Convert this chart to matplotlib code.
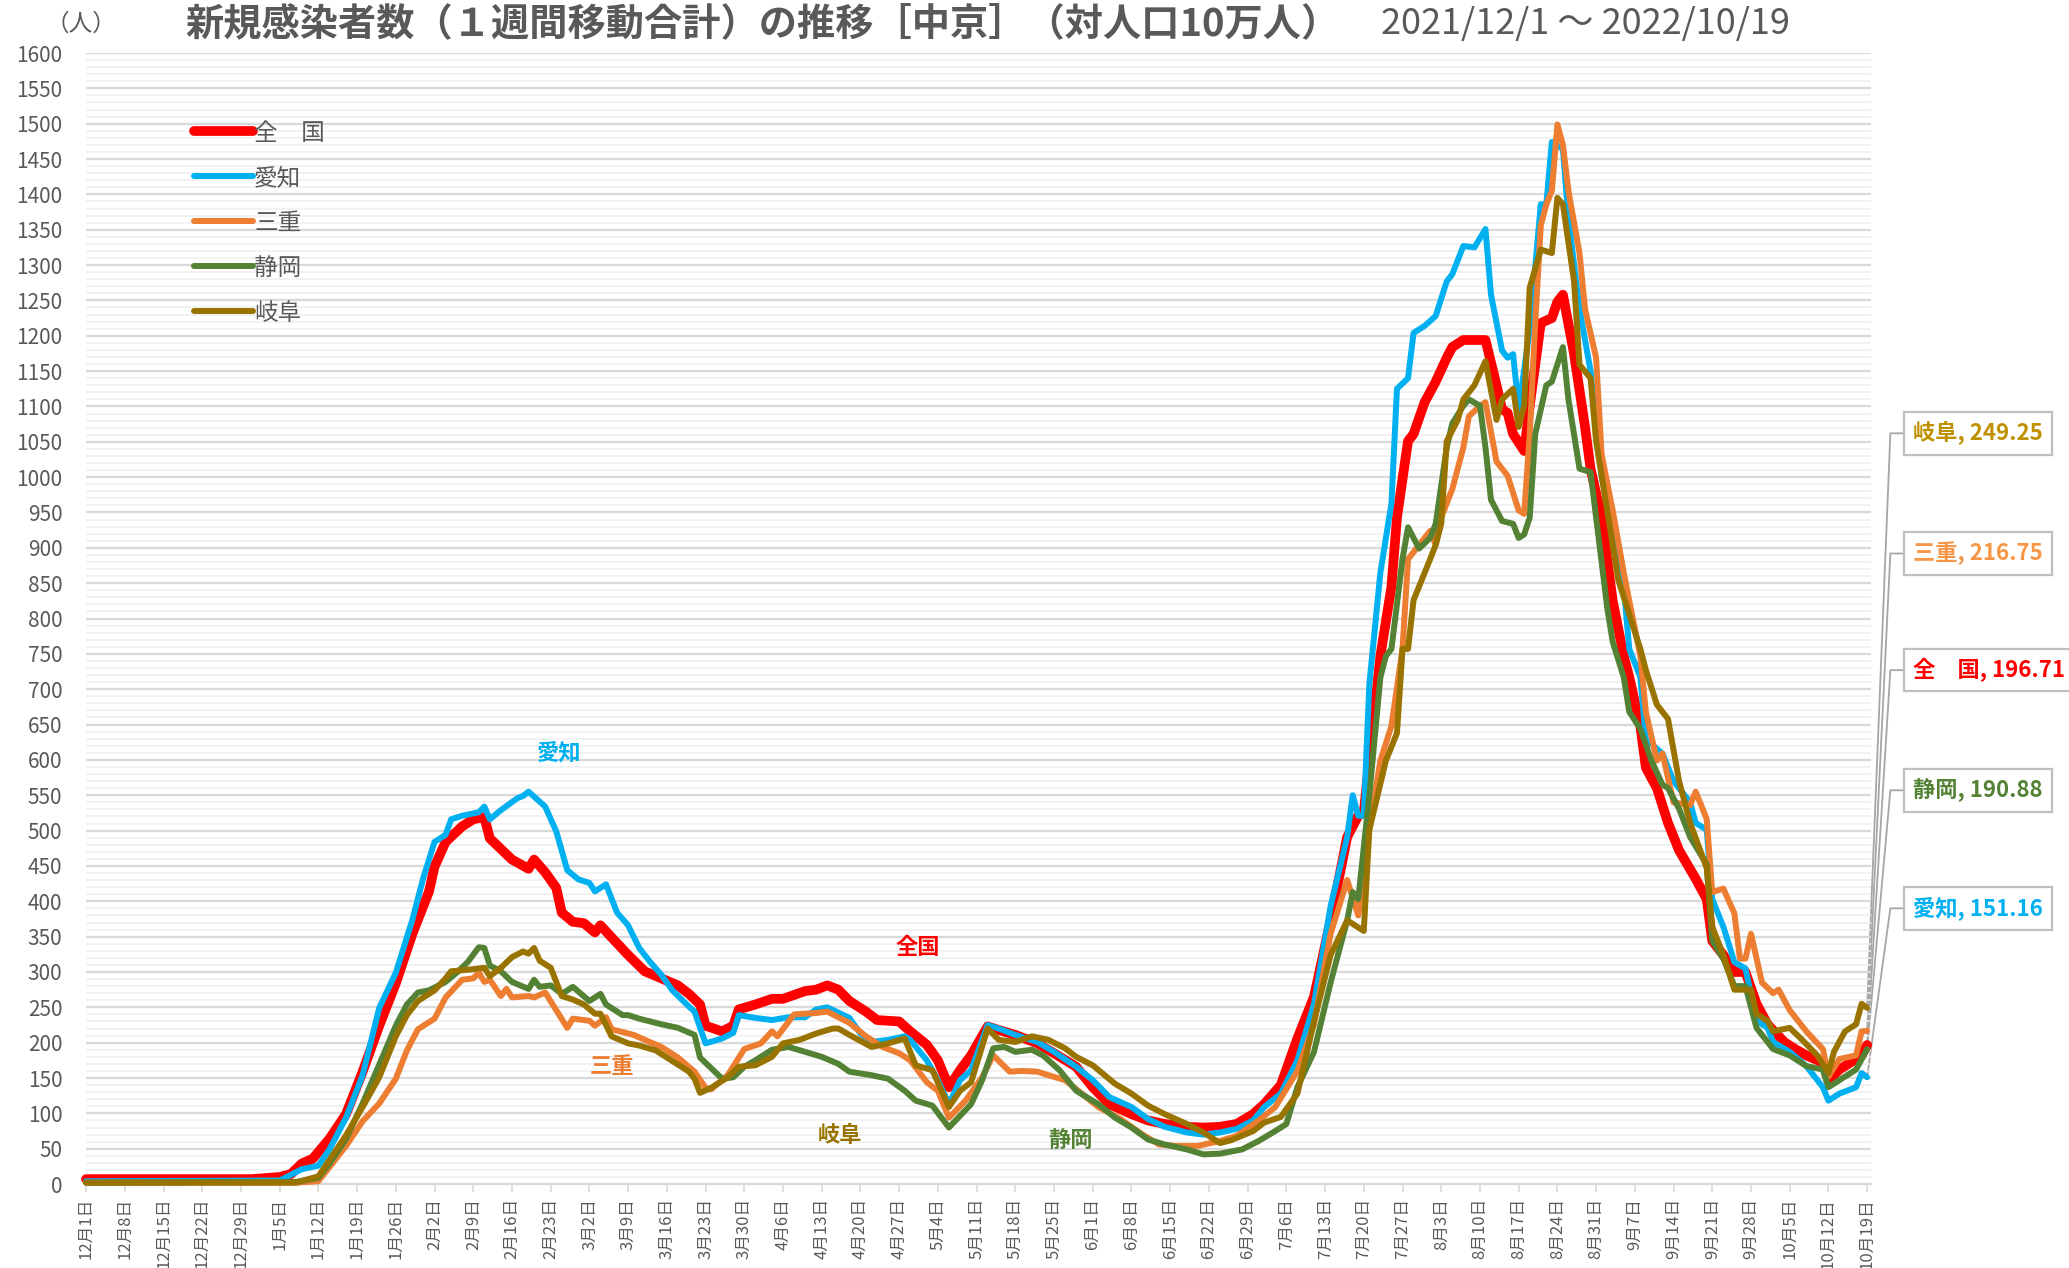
import matplotlib
matplotlib.use("Agg")
import matplotlib.pyplot as plt
from matplotlib.ticker import MultipleLocator
import pandas as pd

plt.rcParams['font.family'] = ['Noto Sans CJK JP', 'DejaVu Sans']

# day offsets from 2021/12/1, values per 100k (1-week moving total)
zenkoku_d = [0, 30, 35, 37, 39, 41, 44, 47, 49, 50, 53, 56, 59, 62, 63, 65, 68, 70, 72, 73, 75, 77, 80, 81, 83, 85, 86, 88, 90, 92, 93, 95, 98, 101, 104, 107, 109, 111, 112, 115, 117, 118, 121, 124, 126, 130, 132, 134, 136, 138, 141, 143, 147, 149, 152, 154, 156, 158, 160, 163, 165, 168, 172, 175, 179, 182, 185, 189, 192, 195, 199, 202, 205, 208, 211, 213, 216, 219, 222, 225, 228, 230, 231, 232, 234, 236, 237, 239, 240, 242, 244, 246, 247, 249, 253, 255, 256, 257, 258, 260, 261, 262, 263, 265, 266, 267, 269, 271, 272, 274, 276, 278, 279, 281, 282, 284, 286, 288, 291, 293, 294, 296, 298, 300, 302, 304, 307, 309, 311, 314, 315, 317, 319, 321, 322]
zenkoku_v = [7, 7, 10, 14, 29, 36, 64, 99, 139, 159, 224, 284, 354, 414, 449, 484, 506, 516, 519, 489, 474, 459, 446, 459, 441, 419, 384, 371, 369, 356, 366, 349, 324, 301, 291, 281, 269, 254, 224, 216, 224, 247, 254, 262, 262, 273, 275, 281, 275, 259, 244, 232, 230, 216, 197, 175, 137, 161, 182, 223, 218, 211, 199, 185, 166, 137, 113, 99, 90, 85, 81, 80, 81, 85, 99, 113, 140, 206, 265, 373, 491, 521, 526, 599, 747, 845, 943, 1051, 1061, 1106, 1135, 1169, 1184, 1194, 1194, 1130, 1096, 1091, 1061, 1037, 1101, 1160, 1218, 1225, 1248, 1258, 1175, 1071, 1012, 943, 825, 747, 717, 648, 589, 560, 511, 472, 432, 403, 344, 324, 300, 300, 255, 226, 201, 191, 182, 172, 147, 162, 172, 182, 196.71]

aichi_d = [0, 35, 39, 42, 44, 47, 50, 53, 56, 59, 61, 63, 65, 66, 68, 71, 72, 73, 75, 78, 79, 80, 83, 85, 87, 89, 91, 92, 94, 96, 98, 100, 102, 104, 106, 109, 110, 112, 115, 117, 118, 121, 124, 127, 130, 132, 134, 138, 140, 142, 145, 148, 149, 152, 154, 156, 158, 160, 163, 165, 168, 172, 175, 179, 182, 185, 189, 192, 195, 199, 202, 205, 208, 211, 213, 216, 219, 222, 225, 228, 229, 230, 231, 232, 234, 236, 237, 239, 240, 242, 244, 246, 247, 249, 251, 253, 254, 256, 257, 258, 259, 261, 263, 264, 265, 267, 268, 270, 272, 274, 276, 278, 279, 281, 282, 285, 287, 290, 291, 293, 294, 296, 298, 300, 302, 304, 305, 308, 311, 314, 315, 317, 320, 321, 322]
aichi_v = [4, 5, 21, 26, 49, 94, 154, 249, 299, 374, 434, 484, 494, 516, 521, 526, 534, 516, 529, 546, 549, 555, 534, 499, 444, 431, 426, 414, 424, 384, 366, 334, 314, 296, 274, 251, 244, 199, 206, 214, 239, 235, 232, 236, 236, 247, 250, 235, 213, 201, 204, 209, 204, 175, 147, 113, 147, 161, 225, 220, 211, 201, 187, 166, 147, 123, 109, 92, 81, 73, 70, 73, 78, 90, 109, 128, 175, 255, 393, 491, 550, 521, 521, 707, 865, 963, 1125, 1140, 1204, 1214, 1228, 1277, 1287, 1327, 1325, 1351, 1258, 1179, 1169, 1174, 1096, 1209, 1386, 1386, 1474, 1464, 1366, 1238, 1150, 1002, 924, 845, 757, 717, 629, 609, 570, 540, 511, 501, 403, 364, 314, 305, 231, 221, 201, 187, 167, 137, 118, 128, 137, 157, 151.16]

mie_d = [0, 38, 42, 44, 47, 50, 53, 56, 58, 60, 63, 65, 68, 70, 71, 72, 73, 75, 76, 77, 80, 81, 83, 85, 87, 88, 91, 92, 94, 95, 99, 101, 104, 107, 110, 112, 113, 116, 119, 122, 124, 125, 128, 132, 134, 138, 141, 144, 147, 149, 152, 154, 156, 159, 162, 164, 167, 169, 172, 174, 177, 180, 183, 187, 191, 194, 197, 201, 205, 208, 212, 215, 219, 222, 225, 228, 230, 232, 234, 236, 238, 239, 241, 243, 244, 245, 247, 249, 250, 252, 253, 255, 257, 259, 260, 261, 262, 263, 264, 265, 266, 267, 268, 270, 271, 273, 274, 276, 278, 279, 281, 282, 284, 285, 287, 290, 291, 292, 293, 294, 296, 298, 299, 300, 301, 303, 305, 306, 308, 311, 314, 315, 317, 320, 321, 322]
mie_v = [2, 2, 4, 24, 54, 89, 114, 149, 189, 219, 234, 264, 289, 291, 299, 286, 289, 266, 276, 264, 266, 264, 271, 246, 221, 234, 231, 224, 236, 219, 211, 204, 194, 179, 159, 136, 134, 154, 191, 199, 216, 209, 240, 242, 244, 228, 209, 194, 185, 175, 144, 132, 94, 118, 151, 182, 159, 160, 159, 154, 147, 128, 109, 92, 70, 56, 54, 54, 61, 68, 90, 109, 160, 226, 354, 430, 380, 501, 599, 648, 757, 884, 904, 924, 904, 943, 983, 1042, 1086, 1101, 1106, 1022, 1002, 953, 948, 1061, 1218, 1356, 1386, 1405, 1499, 1470, 1405, 1317, 1238, 1169, 1032, 953, 865, 825, 747, 668, 599, 609, 540, 536, 555, 536, 516, 413, 418, 383, 319, 319, 354, 285, 270, 275, 246, 216, 191, 152, 177, 182, 216, 216.75]

shizuoka_d = [0, 38, 42, 44, 47, 50, 53, 56, 58, 60, 62, 65, 67, 69, 71, 72, 73, 75, 77, 80, 81, 82, 84, 86, 88, 91, 93, 94, 97, 98, 100, 104, 107, 110, 111, 113, 115, 117, 119, 121, 124, 127, 130, 133, 136, 138, 142, 145, 148, 150, 153, 156, 160, 162, 164, 166, 168, 171, 173, 176, 179, 183, 186, 189, 192, 195, 199, 202, 205, 209, 212, 215, 217, 219, 222, 225, 228, 229, 230, 232, 234, 235, 236, 238, 239, 241, 243, 244, 246, 247, 249, 250, 252, 253, 254, 256, 258, 259, 260, 261, 262, 264, 265, 267, 268, 270, 272, 273, 275, 276, 278, 279, 281, 283, 285, 286, 288, 290, 293, 294, 296, 298, 300, 302, 304, 305, 308, 311, 314, 315, 317, 320, 322]
shizuoka_v = [2, 3, 9, 29, 64, 114, 169, 224, 254, 271, 274, 286, 299, 314, 335, 334, 309, 301, 286, 276, 289, 279, 281, 269, 279, 259, 269, 254, 239, 239, 234, 226, 221, 211, 179, 164, 149, 151, 166, 175, 190, 194, 187, 180, 170, 159, 154, 149, 132, 118, 111, 80, 113, 147, 192, 194, 187, 190, 182, 161, 132, 113, 94, 80, 63, 56, 49, 42, 43, 49, 61, 75, 85, 137, 187, 285, 373, 413, 403, 550, 717, 747, 757, 884, 929, 899, 914, 934, 1042, 1076, 1101, 1110, 1101, 1042, 968, 938, 934, 914, 919, 943, 1061, 1130, 1135, 1184, 1110, 1012, 1007, 943, 816, 767, 717, 668, 644, 599, 565, 560, 531, 491, 452, 344, 319, 280, 280, 221, 201, 191, 182, 167, 162, 137, 147, 162, 190.88]

gifu_d = [0, 38, 42, 44, 47, 50, 53, 56, 58, 60, 63, 65, 66, 70, 72, 73, 75, 77, 79, 80, 81, 82, 84, 86, 88, 90, 92, 93, 95, 98, 100, 103, 106, 109, 110, 111, 113, 116, 118, 121, 124, 126, 129, 132, 135, 136, 138, 142, 145, 148, 150, 153, 156, 158, 160, 163, 165, 168, 171, 174, 177, 179, 182, 186, 189, 192, 195, 199, 202, 205, 207, 211, 213, 216, 219, 222, 225, 228, 230, 231, 232, 235, 237, 238, 239, 240, 243, 244, 245, 246, 248, 249, 251, 253, 255, 256, 258, 259, 260, 261, 263, 265, 266, 267, 269, 270, 272, 273, 275, 277, 279, 281, 282, 284, 286, 288, 290, 293, 294, 296, 298, 301, 302, 304, 305, 308, 310, 313, 315, 316, 318, 320, 321, 322]
gifu_v = [2, 2, 11, 34, 69, 109, 151, 209, 239, 259, 274, 291, 301, 304, 306, 294, 306, 321, 329, 326, 334, 316, 306, 266, 261, 254, 241, 241, 209, 199, 196, 189, 174, 159, 149, 129, 136, 151, 166, 168, 180, 199, 204, 213, 220, 220, 211, 194, 199, 206, 168, 161, 109, 132, 144, 220, 204, 201, 209, 204, 192, 180, 168, 142, 128, 111, 99, 85, 73, 58, 62, 75, 87, 95, 128, 230, 324, 373, 363, 358, 501, 599, 638, 757, 757, 826, 884, 904, 934, 1051, 1081, 1110, 1130, 1164, 1081, 1110, 1125, 1071, 1101, 1268, 1322, 1317, 1395, 1386, 1278, 1159, 1140, 1051, 953, 855, 806, 757, 727, 678, 658, 570, 511, 447, 364, 324, 275, 275, 241, 231, 216, 221, 206, 182, 157, 187, 216, 226, 255, 249.25]

names = ['全　国', '愛知', '三重', '静岡', '岐阜']
colors = ['#FF0000', '#00B0F0', '#ED7D31', '#548235', '#997300']
label_colors = ['#FF0000', '#00B0F0', '#F79646', '#548235', '#BF9000']
widths = [7.0, 4.3, 4.3, 4.3, 4.3]
series = [(zenkoku_d, zenkoku_v), (aichi_d, aichi_v), (mie_d, mie_v),
          (shizuoka_d, shizuoka_v), (gifu_d, gifu_v)]

tick_dates = pd.date_range('2021-12-01', '2022-10-19', freq='7D')
tick_labels = [f"{d.month}月{d.day}日" for d in tick_dates]

gray = '#595959'
fig = plt.figure(figsize=(20.69, 12.68), dpi=100)
ax = fig.add_axes([0.0416, 0.0662, 0.8627, 0.8920])

for (d, v), name, c, w, z in zip(series, names, colors, widths, range(2, 7)):
    ax.plot(d, v, color=c, lw=w, label=name, zorder=z, solid_capstyle='round',
            solid_joinstyle='round', clip_on=False)

ax.set_xlim(0, 322.7)
ax.set_ylim(0, 1600)
ax.yaxis.set_major_locator(MultipleLocator(50))
ax.yaxis.set_minor_locator(MultipleLocator(10))
ax.grid(which='major', axis='y', color='#D9D9D9', lw=1.6, zorder=0)
ax.grid(which='minor', axis='y', color='#EFEFEF', lw=1.1, zorder=0)
for s in ['top', 'right', 'left']:
    ax.spines[s].set_visible(False)
ax.spines['bottom'].set_color('#D9D9D9')
ax.spines['bottom'].set_linewidth(1.6)
ax.tick_params(axis='y', which='both', length=0, pad=17, labelsize=15, labelcolor=gray)
ax.set_xticks(range(0, 323, 7))
ax.set_xticklabels(tick_labels, rotation=90, fontsize=12, color=gray, va='top')
ax.tick_params(axis='x', length=6, width=1.2, color='#D9D9D9', pad=4)

# inline series names
ax.text(85.5, 610, '愛知', color='#00B0F0', fontsize=16, fontweight='bold', ha='center', va='center')
ax.text(95, 166, '三重', color='#ED7D31', fontsize=16, fontweight='bold', ha='center', va='center')
ax.text(150.4, 335, '全国', color='#FF0000', fontsize=16, fontweight='bold', ha='center', va='center')
ax.text(136.3, 69, '岐阜', color='#997300', fontsize=16, fontweight='bold', ha='center', va='center')
ax.text(178, 61, '静岡', color='#548235', fontsize=16, fontweight='bold', ha='center', va='center')

# end-value callouts
box_y = {'岐阜': 1062, '三重': 892, '全　国': 727, '静岡': 557, '愛知': 390}
for (d, v), name, c in zip(series, names, label_colors):
    yb = box_y[name]
    ax.plot([d[-1], 326.2, 328.7], [v[-1], yb, yb], color='#A6A6A6', lw=1.3,
            clip_on=False, zorder=1)
    ax.text(330.3, yb, f"{name}, {v[-1]:.2f}", color=c, fontsize=16, fontweight='bold',
            ha='left', va='center', clip_on=False,
            bbox=dict(boxstyle='square,pad=0.42', fc='white', ec='#BFBFBF', lw=1.6))

leg = ax.legend(loc='upper left', bbox_to_anchor=(0.0485, 0.958), frameon=False,
                fontsize=17, handlelength=2.5, handletextpad=0.05, labelspacing=0.93)
for t in leg.get_texts():
    t.set_color(gray)

fig.text(0.022, 0.981, '（人）', fontsize=17, color=gray, va='center')
fig.text(0.0894, 0.981, '新規感染者数（１週間移動合計）の推移［中京］（対人口10万人）',
         fontsize=27.5, fontweight='bold', color=gray, va='center')
fig.text(0.6675, 0.981, '2021/12/1 ～ 2022/10/19', fontsize=26, color=gray, va='center')

fig.savefig('out.png', dpi=100)
